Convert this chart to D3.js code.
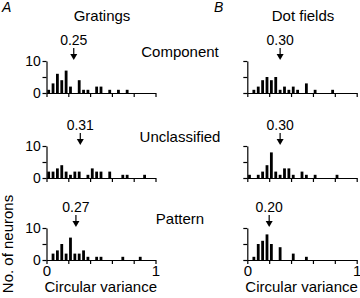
<!DOCTYPE html>
<head>
  <meta charset="utf-8">
  <title>Circular variance histograms</title>
  <style>
    body { margin: 0; background: #fff; }
    text { font-family: "Liberation Sans", Arial, Helvetica, sans-serif; fill: #000; }
  </style>
</head>
<body>
  <div id="chart"></div>
  <script src="https://d3js.org/d3.v7.min.js"></script>
  <script>
    // counts per bin, 25 bins of 0.04 from 0 to 1
    const gratingsComponent    = [1,3,6,4,7,2,0,4,1,1,0,2,2,0,1,0,1,0,1,0,0,0,0,0,0];
    const gratingsUnclassified = [2,2,3,4,2,1,2,2,0,1,3,2,2,0,2,0,0,1,1,0,0,0,1,0,0];
    const gratingsPattern      = [0,2,3,5,2,7,2,2,3,1,0,1,1,0,0,0,0,1,0,0,0,1,0,0,0];
    const dotsComponent        = [0,1,2,4,5,4,5,1,2,1,2,1,0,3,0,1,0,0,0,1,0,0,0,0,0];
    const dotsUnclassified     = [1,0,1,2,4,8,2,1,3,3,1,0,2,1,0,1,0,0,0,0,1,0,0,0,0];
    const dotsPattern          = [0,1,5,6,8,5,0,4,0,0,2,0,0,1,0,0,0,0,0,0,0,0,0,0,0];

    const gratingsMeans = [0.25, 0.31, 0.27];
    const dotsMeans = [0.30, 0.30, 0.20];
    const rowNames = ["Component", "Unclassified", "Pattern"];
    const columnTitles = ["Gratings", "Dot fields"];
    const panelLetters = ["A", "B"];
    const xTicks = [0, 0.2, 0.4, 0.6, 0.8, 1];
    const yTicks = [0, 5, 10];
    const binWidth = 0.04;

    const width = 360, height = 298;
    const svg = d3.select("#chart").append("svg")
      .attr("width", width).attr("height", height);

    const columns = [
      { x0: 46.5, x1: 155.5, data: [gratingsComponent, gratingsUnclassified, gratingsPattern], means: gratingsMeans },
      { x0: 247.3, x1: 356.7, data: [dotsComponent, dotsUnclassified, dotsPattern], means: dotsMeans }
    ];
    const rowBase = [93, 178, 260];
    const rowH = 32;

    columns.forEach((col, ci) => {
      const x = d3.scaleLinear().domain([0, 1]).range([col.x0, col.x1]);

      svg.append("text")
        .attr("x", ci === 0 ? 2 : 214).attr("y", 12)
        .attr("font-size", 14).attr("font-style", "italic")
        .text(panelLetters[ci]);

      svg.append("text")
        .attr("x", (col.x0 + col.x1) / 2 + 1).attr("y", 21)
        .attr("text-anchor", "middle").attr("font-size", 15)
        .text(columnTitles[ci]);

      col.data.forEach((counts, ri) => {
        const y = d3.scaleLinear().domain([0, 10]).range([rowBase[ri], rowBase[ri] - rowH]);
        const g = svg.append("g");
        const last = ri === 2;

        const bins = counts.map((c, i) => ({ x0: i * binWidth, x1: (i + 1) * binWidth, n: c }))
          .filter(d => d.n > 0);

        g.selectAll("rect")
          .data(bins)
          .join("rect")
          .attr("x", d => x((d.x0 + d.x1) / 2) - 1.4)
          .attr("width", 2.8)
          .attr("y", d => y(d.n))
          .attr("height", d => y(0) - y(d.n))
          .attr("fill", "#000");

        g.append("g")
          .attr("transform", `translate(0,${y(0)})`)
          .call(d3.axisBottom(x).tickValues(xTicks).tickSize(4).tickSizeOuter(0)
            .tickFormat(d => (last && (d === 0 || d === 1)) ? d3.format("d")(d) : ""))
          .call(a => a.selectAll("text").attr("font-size", 15).attr("dy", "0.6em").attr("fill", "#000"))
          .call(a => a.selectAll("line,path").attr("stroke", "#000").attr("stroke-width", 1.2));

        g.append("g")
          .attr("transform", `translate(${col.x0},0)`)
          .call(d3.axisLeft(y).tickValues(yTicks).tickSize(4).tickSizeOuter(0)
            .tickFormat(d => ci === 0 && d !== 5 ? d : ""))
          .call(a => a.selectAll("text").attr("font-size", 14).attr("dx", "0.1em").attr("fill", "#000"))
          .call(a => a.selectAll("line,path").attr("stroke", "#000").attr("stroke-width", 1.2));

        // mean arrow
        const mx = x(col.means[ri]);
        const tip = y(10) - 1;
        g.append("line")
          .attr("x1", mx).attr("x2", mx)
          .attr("y1", tip - 12).attr("y2", tip - 4)
          .attr("stroke", "#000").attr("stroke-width", 1.2);
        g.append("path")
          .attr("d", `M${mx - 3.5},${tip - 6}L${mx + 3.5},${tip - 6}L${mx},${tip}Z`)
          .attr("fill", "#000");
        g.append("text")
          .attr("x", mx).attr("y", tip - 15)
          .attr("text-anchor", "middle").attr("font-size", 14)
          .text(d3.format(".2f")(col.means[ri]));

        if (ci === 0) {
          svg.append("text")
            .attr("x", 180).attr("y", y(10) - 4)
            .attr("text-anchor", "middle").attr("font-size", 15)
            .text(rowNames[ri]);
        }
        if (last) {
          svg.append("text")
            .attr("x", col.x0 - 2).attr("y", 292)
            .attr("font-size", 15)
            .text("Circular variance");
        }
      });
    });

    svg.append("text")
      .attr("transform", "translate(13,244) rotate(-90)")
      .attr("text-anchor", "middle").attr("font-size", 15)
      .text("No. of neurons");
  </script>
</body>
</html>
